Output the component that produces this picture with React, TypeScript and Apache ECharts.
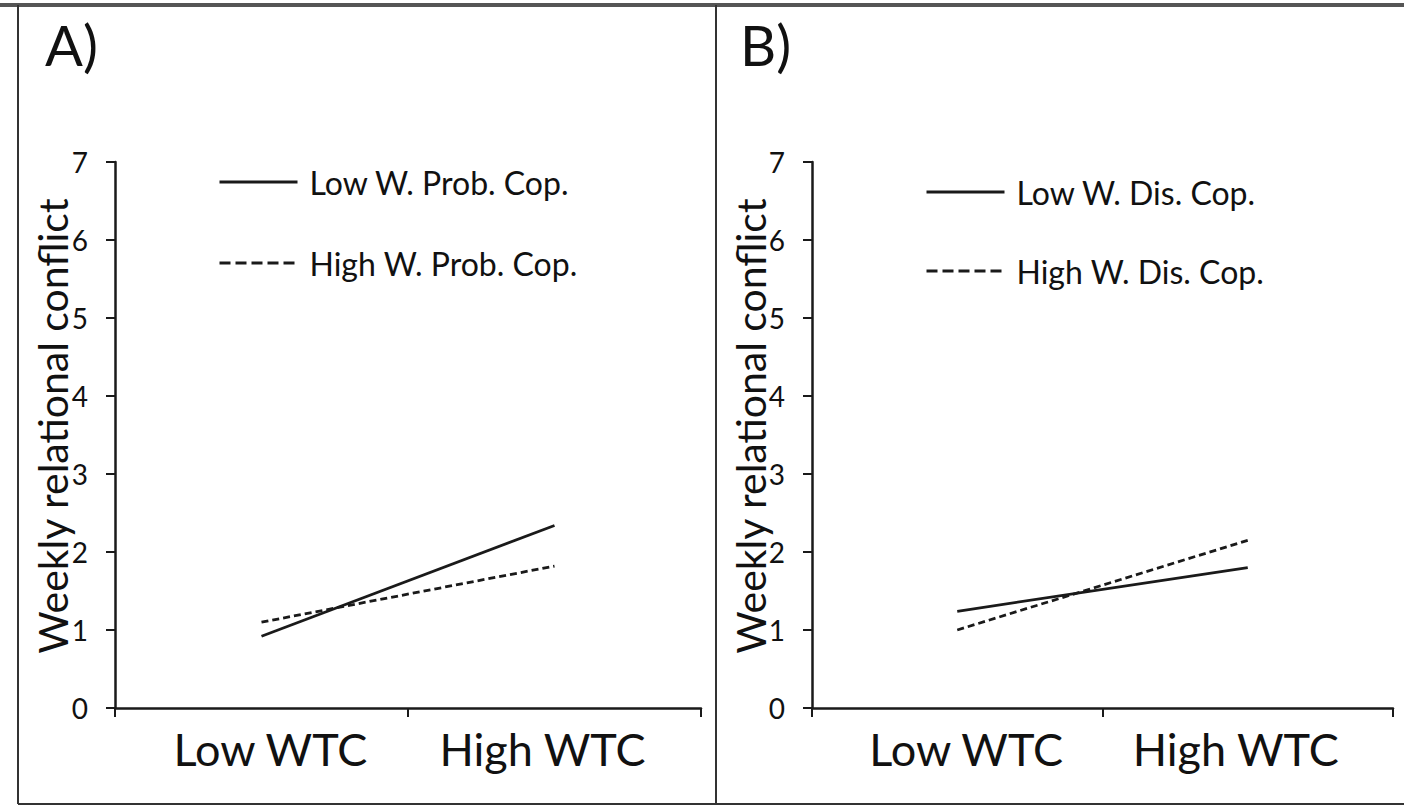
import React, { useEffect, useRef } from "react";
import * as echarts from "echarts";

const categories = ["Low WTC", "High WTC"];
const yTicks = [0, 7, 1];
const seriesA = [
  { name: "Low W. Prob. Cop.", values: [0.92, 2.34], dashed: false },
  { name: "High W. Prob. Cop.", values: [1.1, 1.82], dashed: true },
];
const seriesB = [
  { name: "Low W. Dis. Cop.", values: [1.24, 1.8], dashed: false },
  { name: "High W. Dis. Cop.", values: [1.0, 2.15], dashed: true },
];
const panelLabels = ["A)", "B)"];
const yTitle = "Weekly relational conflict";

const FONT = "Lato, 'Open Sans', sans-serif";
const INK = "#1a1a1a";

export default function App() {
  const ref = useRef<HTMLDivElement>(null);
  useEffect(() => {
    if (!ref.current) return;
    const chart = echarts.init(ref.current, undefined, { renderer: "svg" });
    const grids = [
      { left: 115, top: 162, width: 586, height: 546 },
      { left: 812, top: 162, width: 581, height: 546 },
    ];
    const lab = { color: "#111", fontSize: 45, fontFamily: FONT };
    const xAxis = grids.map((_, i) => ({
      type: "category",
      gridIndex: i,
      data: categories,
      boundaryGap: true,
      axisLine: { lineStyle: { color: INK, width: 2.5 } },
      axisTick: { show: true, length: 9, interval: 0, lineStyle: { color: INK, width: 2 } },
      axisLabel: {
        ...lab,
        interval: 0,
        hideOverlap: false,
        margin: 18,
        formatter: (v: string) => (v === categories[0] ? `{a|${v}}` : `{b|${v}}`),
        rich: {
          a: { ...lab, padding: [0, 0, 0, 18] },
          b: { ...lab, padding: [0, 24, 0, 0] },
        },
      },
    }));
    const yAxis = grids.map((_, i) => ({
      type: "value",
      gridIndex: i,
      min: yTicks[0],
      max: yTicks[1],
      interval: yTicks[2],
      splitLine: { show: false },
      axisLine: { show: true, lineStyle: { color: INK, width: 2.5 } },
      axisTick: { show: true, length: 9, lineStyle: { color: INK, width: 2 } },
      axisLabel: { color: "#111", fontSize: 28, fontFamily: FONT, margin: 27 },
    }));
    const mk = (s: any, idx: number) => ({
      type: "line",
      name: s.name,
      xAxisIndex: idx,
      yAxisIndex: idx,
      data: s.values,
      symbol: "none",
      lineStyle: { color: INK, width: 2.8, type: s.dashed ? [7, 4] : "solid" },
      itemStyle: { color: INK },
    });
    const series = [...seriesA.map((s) => mk(s, 0)), ...seriesB.map((s) => mk(s, 1))];
    const legendData = (arr: any[]) =>
      arr.map((s) => ({
        name: s.name,
        lineStyle: { width: 3, type: s.dashed ? [11, 5] : "solid" },
      }));
    const legendCommon = {
      orient: "vertical",
      itemWidth: 78,
      itemHeight: 10,
      itemStyle: { opacity: 0 },
      textStyle: { color: "#111", fontSize: 32, fontFamily: FONT, lineHeight: 34, padding: [0, 0, 0, 7] },
    };
    const legend = [
      { ...legendCommon, left: 213, top: 160, itemGap: 47, data: legendData(seriesA) },
      { ...legendCommon, left: 920, top: 170, itemGap: 45, data: legendData(seriesB) },
    ];
    const border = { stroke: "#333", lineWidth: 2 };
    const titleStyle = { text: yTitle, fontSize: 41, fontFamily: FONT, fill: "#111", align: "center", verticalAlign: "middle" };
    const graphic: any[] = [
      { type: "line", shape: { x1: 0, y1: 5, x2: 1404, y2: 5 }, style: { stroke: "#555", lineWidth: 4 } },
      { type: "line", shape: { x1: 18, y1: 5, x2: 18, y2: 804 }, style: border },
      { type: "line", shape: { x1: 716, y1: 5, x2: 716, y2: 804 }, style: border },
      { type: "line", shape: { x1: 18, y1: 804, x2: 1404, y2: 804 }, style: border },
      { type: "text", left: 45, top: 16, style: { text: panelLabels[0], fontSize: 56, fontFamily: FONT, fill: "#111" } },
      { type: "text", left: 740, top: 16, style: { text: panelLabels[1], fontSize: 56, fontFamily: FONT, fill: "#111" } },
      { type: "text", x: 52, y: 426, rotation: Math.PI / 2, style: titleStyle },
      { type: "text", x: 750, y: 426, rotation: Math.PI / 2, style: titleStyle },
    ];
    chart.setOption({
      animation: false,
      backgroundColor: "#fff",
      grid: grids,
      xAxis,
      yAxis,
      legend,
      series,
      graphic,
    });
    return () => chart.dispose();
  }, []);
  return <div ref={ref} style={{ position: "fixed", left: 0, top: 0, width: 1404, height: 806 }} />;
}
